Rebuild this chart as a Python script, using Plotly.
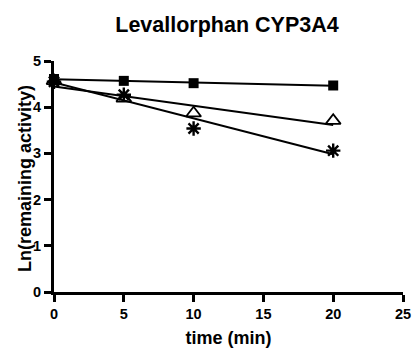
import numpy as np
import plotly.graph_objects as go

time_min = [0, 5, 10, 20]
square_vals = [4.61, 4.57, 4.52, 4.47]
triangle_vals = [4.57, 4.19, 3.87, 3.71]
star_vals = [4.55, 4.27, 3.54, 3.06]

x_ticks = [0, 5, 10, 15, 20, 25]
y_ticks = [0, 1, 2, 3, 4, 5]

FONT = "Arial, Liberation Sans, sans-serif"

fig = go.Figure()

series = [
    (square_vals, dict(symbol="square", size=10, color="black")),
    (triangle_vals, dict(symbol="triangle-up-open", size=13, color="black", line=dict(width=1.8, color="black"))),
    (star_vals, dict(symbol="asterisk-open", size=12, color="black", line=dict(width=2.4, color="black"))),
]

fit_x = np.array([0, 20])
for vals, mk in series:
    slope, icpt = np.polyfit(time_min, vals, 1)
    fig.add_trace(go.Scatter(x=fit_x, y=icpt + slope * fit_x, mode="lines",
                             line=dict(color="black", width=2), cliponaxis=False,
                             showlegend=False, hoverinfo="skip"))
for vals, mk in series:
    fig.add_trace(go.Scatter(x=time_min, y=vals, mode="markers", marker=mk,
                             cliponaxis=False, showlegend=False))

axis_common = dict(showgrid=False, zeroline=False, showline=True, linecolor="black",
                   linewidth=3, ticks="outside", ticklen=7, tickwidth=2.5, automargin=False,
                   tickcolor="black", tickfont=dict(family=FONT, size=14.5, color="black"))

fig.update_layout(
    width=414, height=349,
    margin=dict(l=54, r=11, t=61, b=57),
    paper_bgcolor="white", plot_bgcolor="white",
    title=dict(text="<b>Levallorphan CYP3A4</b>", x=227 / 414, xanchor="center",
               y=1 - 24 / 349, yanchor="middle",
               font=dict(family=FONT, size=21.5, color="black")),
    xaxis=dict(range=[0, 25], tickvals=x_ticks, ticktext=[f"<b>{v}</b>" for v in x_ticks],
               title=dict(text="<b>time (min)</b>", font=dict(family=FONT, size=18, color="black"), standoff=10),
               **axis_common),
    yaxis=dict(range=[0, 5], tickvals=y_ticks, ticktext=[f"<b>{v}</b>" for v in y_ticks],
               **axis_common),
    annotations=[dict(text="<b>Ln(remaining activity)</b>", textangle=-90,
                      xref="paper", yref="paper", x=(25 - 54) / 349, y=(292 - 179) / 231,
                      xanchor="center", yanchor="middle", showarrow=False,
                      font=dict(family=FONT, size=18, color="black"))],
)

fig.write_html("out.html", config={"displayModeBar": False},
               post_script="document.body.style.margin='0';")
